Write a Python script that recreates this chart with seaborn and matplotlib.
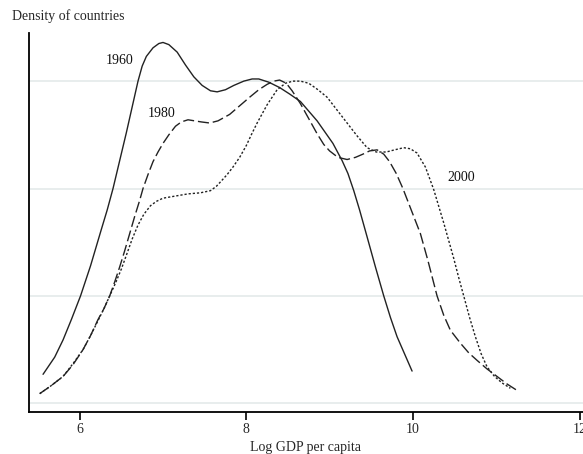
import numpy as np
import pandas as pd
import matplotlib
matplotlib.use("Agg")
import matplotlib.pyplot as plt
import seaborn as sns

# ---- data ----
x1960 = [5.56, 5.70, 5.80, 5.90, 6.01, 6.13, 6.26, 6.33, 6.40, 6.48, 6.56, 6.63, 6.70, 6.75, 6.80,
         6.88, 6.95, 7.00, 7.07, 7.17, 7.27, 7.37, 7.47, 7.57, 7.65, 7.75, 7.85, 7.97, 8.07,
         8.15, 8.27, 8.40, 8.52, 8.65, 8.85, 9.04, 9.15, 9.22, 9.29, 9.36, 9.45, 9.55, 9.65, 9.73,
         9.81, 9.90, 9.99]
y1960 = [0.027, 0.043, 0.059, 0.078, 0.100, 0.128, 0.162, 0.180, 0.200, 0.226, 0.252, 0.276, 0.300, 0.314, 0.323,
         0.331, 0.335, 0.336, 0.334, 0.327, 0.315, 0.304, 0.296, 0.291, 0.290, 0.292, 0.296, 0.300, 0.302,
         0.302, 0.299, 0.294, 0.288, 0.281, 0.263, 0.242, 0.226, 0.214, 0.198, 0.180, 0.155, 0.127, 0.100, 0.080,
         0.062, 0.046, 0.030]

x1980 = [5.52, 5.65, 5.80, 5.92, 6.04, 6.13, 6.22, 6.29, 6.36, 6.42, 6.48, 6.54, 6.60, 6.66, 6.72,
         6.76, 6.82, 6.88, 6.94, 7.00, 7.07, 7.15, 7.22, 7.30, 7.38, 7.46, 7.56, 7.66, 7.80, 7.92,
         8.04, 8.15, 8.25, 8.33, 8.40, 8.48, 8.55, 8.65, 8.75, 8.85, 8.93, 9.00, 9.10, 9.21, 9.31,
         9.40, 9.48, 9.57, 9.65, 9.72, 9.80, 9.88, 9.98, 10.09, 10.18, 10.29, 10.37, 10.45, 10.57,
         10.67, 10.77, 10.89, 11.01, 11.13, 11.25]
y1980 = [0.009, 0.016, 0.025, 0.036, 0.050, 0.063, 0.078, 0.088, 0.100, 0.113, 0.127, 0.142, 0.158, 0.174, 0.189,
         0.200, 0.213, 0.225, 0.234, 0.242, 0.250, 0.258, 0.262, 0.264, 0.263, 0.262, 0.261, 0.263, 0.269, 0.277,
         0.285, 0.292, 0.297, 0.300, 0.301, 0.298, 0.291, 0.279, 0.265, 0.251, 0.241, 0.235, 0.229, 0.227, 0.229,
         0.232, 0.235, 0.236, 0.232, 0.225, 0.214, 0.200, 0.180, 0.158, 0.133, 0.100, 0.082, 0.068, 0.056,
         0.047, 0.040, 0.032, 0.025, 0.018, 0.012]

x2000 = [5.52, 5.65, 5.80, 5.92, 6.04, 6.13, 6.22, 6.29, 6.36, 6.43, 6.50, 6.57, 6.63, 6.70, 6.77,
         6.85, 6.92, 7.00, 7.15, 7.30, 7.45, 7.57, 7.64, 7.70, 7.77, 7.84, 7.92, 8.00, 8.06, 8.13,
         8.25, 8.37, 8.47, 8.56, 8.65, 8.75, 8.86, 8.97, 9.09, 9.21, 9.33, 9.45, 9.56, 9.68, 9.78,
         9.89, 9.97, 10.05, 10.15, 10.25, 10.37, 10.49, 10.55, 10.61, 10.68, 10.75, 10.82, 10.89,
         10.98, 11.07, 11.17]
y2000 = [0.009, 0.016, 0.025, 0.037, 0.050, 0.063, 0.077, 0.088, 0.100, 0.112, 0.125, 0.140, 0.153, 0.166, 0.176,
         0.184, 0.188, 0.191, 0.193, 0.195, 0.196, 0.198, 0.202, 0.207, 0.213, 0.220, 0.229, 0.240, 0.250, 0.261,
         0.278, 0.292, 0.298, 0.300, 0.300, 0.298, 0.292, 0.285, 0.273, 0.261, 0.249, 0.238, 0.234, 0.234, 0.236,
         0.238, 0.237, 0.233, 0.220, 0.199, 0.168, 0.135, 0.117, 0.100, 0.080, 0.062, 0.046, 0.034,
         0.025, 0.019, 0.014]

years = ["1960", "1980", "2000"]
label_x = [6.475, 6.98, 10.585]
label_y = [0.319, 0.270, 0.210]
grid_levels = [0.0, 0.1, 0.2, 0.3]
xticks = [6, 8, 10, 12]

df = pd.concat([
    pd.DataFrame({"x": x1960, "density": y1960, "year": "1960"}),
    pd.DataFrame({"x": x1980, "density": y1980, "year": "1980"}),
    pd.DataFrame({"x": x2000, "density": y2000, "year": "2000"}),
], ignore_index=True)

sns.set_style("white")
plt.rcParams["font.family"] = ["Liberation Serif", "DejaVu Serif"]

fig = plt.figure(figsize=(5.83, 4.54), dpi=100)
ax = fig.add_axes([0.0497, 0.0918, 0.9503, 0.8355])

sns.lineplot(data=df, x="x", y="density", style="year", estimator=None, sort=False,
             dashes={"1960": "", "1980": (8, 2.8), "2000": (1.6, 1.4)},
             color="#222222", linewidth=1.0, legend=False, ax=ax)

for yr, lx, ly in zip(years, label_x, label_y):
    ax.text(lx, ly, yr, ha="center", va="center", fontsize=10, color="#111111")

ax.set_xlim(5.391, 12.042)
ax.set_ylim(-0.0084, 0.3448)
ax.set_xticks(xticks)
ax.set_xticklabels([str(t) for t in xticks], fontsize=10)
ax.set_yticks(grid_levels)
ax.set_yticklabels([])
ax.tick_params(axis="y", length=0, left=False)
ax.tick_params(axis="x", bottom=True, length=6, width=1.2, color="black", pad=2, direction="out")
ax.grid(axis="y", color="#e6ecec", linewidth=1.3)
ax.grid(axis="x", visible=False)
for s in ["top", "right"]:
    ax.spines[s].set_visible(False)
for s in ["left", "bottom"]:
    ax.spines[s].set_color("black")
    ax.spines[s].set_linewidth(1.3)

ax.set_xlabel("Log GDP per capita", fontsize=10, labelpad=3)
ax.set_ylabel("")
fig.text(0.02, 0.965, "Density of countries", ha="left", va="center", fontsize=10)

fig.savefig("out.png", dpi=100)
